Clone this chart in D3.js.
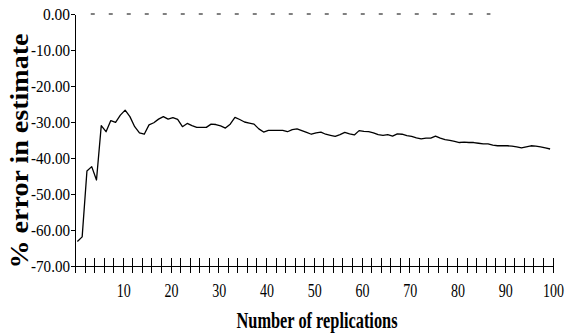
<!DOCTYPE html>
<html>
<head>
<meta charset="utf-8">
<script src="https://cdn.jsdelivr.net/npm/d3@7"></script>
<style>
  body { margin: 0; background: #fff; }
  svg { display: block; }
  svg text { font-family: "Liberation Serif", "Times New Roman", serif; fill: #000; }
  .axis path, .axis line { stroke: #000; stroke-width: 1px; shape-rendering: crispEdges; }
</style>
</head>
<body>
<div class="chart"></div>
<script>
// % error per replication count (1..100)
var errorValues = [
  -63.2, -61.9, -43.6, -42.4, -46.1, -31.0, -32.7, -29.6, -30.1, -28.1,
  -26.7, -28.5, -31.3, -33.0, -33.4, -30.8, -30.2, -29.2, -28.5, -29.2,
  -28.8, -29.3, -31.3, -30.4, -31.0, -31.5, -31.5, -31.5, -30.6, -30.7,
  -31.1, -31.7, -30.6, -28.7, -29.3, -30.0, -30.3, -30.6, -31.9, -32.8,
  -32.3, -32.3, -32.3, -32.3, -32.7, -32.1, -31.9, -32.4, -32.9, -33.4,
  -33.0, -32.8, -33.4, -33.7, -34.0, -33.5, -32.9, -33.3, -33.6, -32.4,
  -32.6, -32.7, -33.0, -33.5, -33.7, -33.5, -33.9, -33.3, -33.4, -33.8,
  -34.0, -34.4, -34.7, -34.5, -34.5, -33.9, -34.5, -34.9, -35.1, -35.4,
  -35.7, -35.6, -35.7, -35.7, -35.9, -36.1, -36.1, -36.4, -36.6, -36.6,
  -36.6, -36.7, -36.9, -37.2, -36.9, -36.6, -36.7, -36.9, -37.2, -37.5
]
var replications = d3.range(1, errorValues.length + 1)
var yTicks = [0, -10, -20, -30, -40, -50, -60, -70]
var xLabelTicks = [10, 20, 30, 40, 50, 60, 70, 80, 90, 100]
var xMinorTicks = d3.range(0, 101, 2)

var width = 568
var height = 336
var margin = {top: 14, right: 15.5, bottom: 70, left: 75}

var x = d3.scaleLinear()
  .domain([0, 100])
  .range([margin.left, width - margin.right])
var y = d3.scaleLinear()
  .domain([-70, 0])
  .range([height - margin.bottom, margin.top])

var svg = d3.select('.chart')
  .append('svg')
  .attr('width', width)
  .attr('height', height)

// dashed zero reference
svg.append('line')
  .attr('x1', x(3.3))
  .attr('x2', x(87))
  .attr('y1', y(0))
  .attr('y2', y(0))
  .style('stroke', '#000')
  .style('stroke-width', 1)
  .style('stroke-dasharray', '4,14')

// y axis
var yAxis = svg.append('g')
  .attr('class', 'axis axis--y')
  .attr('transform', 'translate(' + margin.left + ',0)')
  .call(d3.axisLeft(y)
    .tickValues(yTicks)
    .tickSizeInner(4)
    .tickSizeOuter(0)
    .tickFormat(function(d) { return d.toFixed(2) }))
yAxis.attr('font-family', null)
yAxis.selectAll('text')
  .attr('x', -5)
  .attr('textLength', function(d) { return d === 0 ? 27 : 39 })
  .attr('lengthAdjust', 'spacingAndGlyphs')
  .style('font-size', '16px')

// x axis, ticks crossing the line
var xAxis = svg.append('g')
  .attr('class', 'axis axis--x')
  .attr('transform', 'translate(0,' + y(-70) + ')')
  .call(d3.axisBottom(x)
    .tickValues(xMinorTicks)
    .tickSizeInner(7)
    .tickSizeOuter(0)
    .tickFormat(''))
xAxis.selectAll('.tick line').attr('y1', -8)

var xLabels = svg.append('g')
  .attr('transform', 'translate(0,' + y(-70) + ')')
xLabels.selectAll('text')
  .data(xLabelTicks)
  .enter()
  .append('text')
  .attr('x', function(d) { return x(d) + 1 })
  .attr('y', 31)
  .attr('text-anchor', 'middle')
  .attr('textLength', function(d) { return d === 100 ? 21 : 14 })
  .attr('lengthAdjust', 'spacingAndGlyphs')
  .style('font-size', '18px')
  .text(function(d) { return d })

// axis titles
svg.append('text')
  .attr('transform', 'translate(28,' + 151 + ') rotate(-90)')
  .attr('text-anchor', 'middle')
  .attr('textLength', 235)
  .attr('lengthAdjust', 'spacingAndGlyphs')
  .style('font-size', '26px')
  .style('font-weight', 'bold')
  .text('% error in estimate')

svg.append('text')
  .attr('x', 317)
  .attr('y', 328)
  .attr('text-anchor', 'middle')
  .attr('textLength', 161)
  .attr('lengthAdjust', 'spacingAndGlyphs')
  .style('font-size', '24px')
  .style('font-weight', 'bold')
  .text('Number of replications')

// series line
var line = d3.line()
  .x(function(d, i) { return x(replications[i] - 0.5) })
  .y(function(d) { return y(d) })

svg.append('path')
  .datum(errorValues)
  .attr('d', line)
  .style('fill', 'none')
  .style('stroke', '#000')
  .style('stroke-width', 1.3)
  .style('stroke-linejoin', 'round')
</script>
</body>
</html>
